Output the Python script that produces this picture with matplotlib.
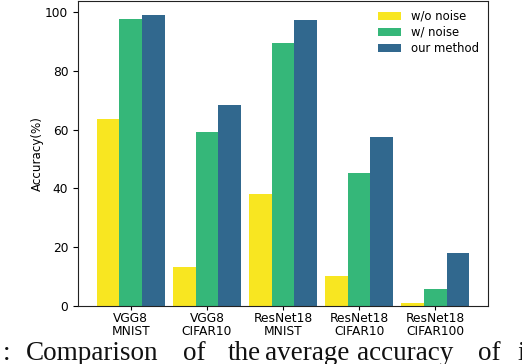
import numpy as np
import matplotlib
matplotlib.use("Agg")
import matplotlib.pyplot as plt

# data
groups = ["VGG8\nMNIST", "VGG8\nCIFAR10", "ResNet18\nMNIST", "ResNet18\nCIFAR10", "ResNet18\nCIFAR100"]
wo_noise = [63.6, 13.2, 38.1, 10.1, 1.0]
w_noise = [97.7, 59.3, 89.6, 45.2, 5.6]
our_method = [99.0, 68.5, 97.3, 57.4, 18.0]

series_names = ["w/o noise", "w/ noise", "our method"]
colors = ["#f8e621", "#35b779", "#31688e"]

caption_words = [":", "Comparison", "of", "the", "average", "accuracy", "of", "i"]
caption_x = [3, 26, 183, 228, 265, 357, 478, 517]   # left edge in pixels

W, H = 522, 364
fig = plt.figure(figsize=(W / 100, H / 100), dpi=100)
ax = fig.add_axes([78 / W, 1 - 305.7 / H, 410 / W, 305.2 / H])

x = np.arange(len(groups))
width = 0.3
for i, (vals, name, c) in enumerate(zip([wo_noise, w_noise, our_method], series_names, colors)):
    ax.bar(x + (i - 1) * width, vals, width, color=c, label=name)

ax.set_xticks(x)
ax.set_xticklabels(groups, fontsize=8.8, linespacing=1.0)
ax.tick_params(axis="x", length=3, pad=1.5)
ax.tick_params(axis="y", labelsize=8.8)
ax.set_ylabel("Accuracy(%)", fontsize=8.6, labelpad=1)
ax.legend(loc="upper right", frameon=False, fontsize=8.4,
          labelspacing=0.25, borderaxespad=0.4)

for sp in ax.spines.values():
    sp.set_color("#222222")

# cropped caption below the figure (justified text in the paper)
for word, px in zip(caption_words, caption_x):
    fig.text(px / W, 1 - 360 / H, word, ha="left", va="baseline",
             fontsize=19.5, family="Liberation Serif", color="#111111")

fig.savefig("out.png", dpi=100)
